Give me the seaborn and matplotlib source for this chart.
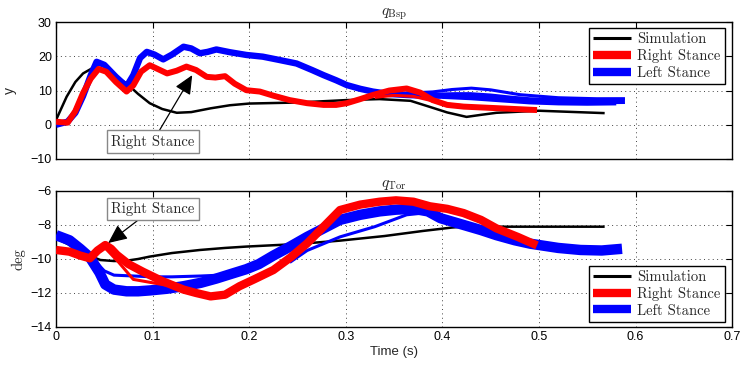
import numpy as np
import pandas as pd
import matplotlib
matplotlib.use("Agg")
import matplotlib.pyplot as plt
import seaborn as sns
from matplotlib.lines import Line2D

# ---------------- data ----------------
# Top panel  q_Bsp  (y)
t_sim_top = [0, 0.011, 0.02, 0.028, 0.038, 0.05, 0.062, 0.073, 0.085, 0.097, 0.11, 0.125,
             0.14, 0.16, 0.18, 0.2, 0.25, 0.3, 0.335, 0.367, 0.385, 0.405, 0.425, 0.44,
             0.456, 0.5, 0.568]
v_sim_top = [1.4, 8.2, 12.5, 15.0, 16.6, 16.0, 14.0, 12.1, 9.0, 6.3, 4.6, 3.5,
             3.7, 4.8, 5.7, 6.2, 6.5, 7.2, 7.5, 7.0, 5.4, 3.6, 2.3, 2.9,
             3.5, 4.1, 3.4]

t_right_top = [0, 0.012, 0.02, 0.028, 0.036, 0.044, 0.052, 0.062, 0.073, 0.08, 0.088, 0.097,
               0.106, 0.115, 0.125, 0.135, 0.145, 0.156, 0.165, 0.175, 0.185, 0.197, 0.211,
               0.225, 0.242, 0.26, 0.277, 0.29, 0.301, 0.315, 0.328, 0.345, 0.363, 0.377,
               0.39, 0.405, 0.422, 0.46, 0.498]
v_right_top = [0.9, 0.6, 4.0, 9.3, 13.5, 16.3, 15.5, 12.5, 9.7, 11.5, 15.5, 17.4,
               16.2, 15.0, 15.8, 17.0, 16.0, 14.0, 13.8, 14.2, 12.0, 10.1, 9.7,
               8.5, 7.2, 6.3, 5.8, 5.8, 6.3, 7.5, 8.7, 10.0, 10.6, 9.4,
               7.2, 5.8, 5.3, 4.8, 4.3]
t_right_top_b = [0.33, 0.35, 0.37, 0.385, 0.40, 0.42, 0.45, 0.48, 0.498]
v_right_top_b = [8.0, 8.6, 8.3, 7.3, 6.2, 5.6, 4.9, 4.5, 4.4]

t_left_top = [0, 0.012, 0.02, 0.028, 0.036, 0.042, 0.05, 0.062, 0.073, 0.08, 0.087, 0.094,
              0.102, 0.111, 0.12, 0.132, 0.14, 0.149, 0.157, 0.166, 0.18, 0.197, 0.214,
              0.23, 0.249, 0.265, 0.277, 0.29, 0.301, 0.315, 0.328, 0.345, 0.363, 0.38,
              0.398, 0.413, 0.429, 0.45, 0.47, 0.491, 0.52, 0.55, 0.589]
v_left_top = [0.0, 0.9, 3.5, 8.4, 14.5, 18.4, 17.5, 14.0, 11.2, 14.5, 19.5, 21.3,
              20.5, 19.1, 20.5, 22.8, 22.3, 20.9, 21.3, 22.0, 21.2, 20.4, 19.9,
              19.0, 17.9, 16.0, 14.5, 13.0, 11.6, 10.5, 9.7, 9.0, 8.7, 8.5,
              8.5, 8.6, 8.6, 8.2, 7.6, 7.1, 6.9, 6.9, 7.0]
t_left_top_b = [0.36, 0.39, 0.41, 0.43, 0.45, 0.48, 0.52, 0.56, 0.589]
v_left_top_b = [9.2, 9.6, 10.3, 10.7, 10.2, 8.8, 7.9, 7.6, 7.6]
t_left_top_c = [0.40, 0.43, 0.46, 0.49, 0.52, 0.55, 0.58]
v_left_top_c = [8.0, 7.6, 7.0, 6.4, 6.1, 6.0, 6.1]

# Bottom panel  q_Tor  (deg)
t_sim_bot = [0, 0.015, 0.028, 0.046, 0.06, 0.073, 0.085, 0.097, 0.12, 0.149, 0.175, 0.197,
             0.25, 0.294, 0.34, 0.38, 0.41, 0.422, 0.568]
v_sim_bot = [-8.78, -9.2, -9.67, -10.06, -10.12, -10.1, -10.0, -9.86, -9.65, -9.47, -9.35, -9.27,
             -9.12, -8.92, -8.65, -8.35, -8.15, -8.1, -8.1]

t_right_bot = [0, 0.014, 0.025, 0.035, 0.043, 0.051, 0.057, 0.063, 0.075, 0.09, 0.11, 0.132,
               0.145, 0.16, 0.175, 0.19, 0.205, 0.225, 0.243, 0.26, 0.277, 0.294, 0.315,
               0.335, 0.352, 0.37, 0.387, 0.405, 0.422, 0.44, 0.456, 0.478, 0.498]
v_right_bot = [-9.47, -9.57, -9.8, -9.96, -9.5, -9.18, -9.4, -9.76, -10.3, -10.75, -11.3, -11.8,
               -12.0, -12.2, -12.1, -11.6, -11.2, -10.65, -9.9, -9.08, -8.1, -7.12, -6.8,
               -6.63, -6.55, -6.63, -6.9, -7.05, -7.3, -7.7, -8.2, -8.7, -9.2]
t_right_bot_b = [0.05, 0.065, 0.08, 0.1, 0.12, 0.14]
v_right_bot_b = [-9.3, -10.2, -11.2, -11.4, -11.6, -11.9]

t_left_bot = [0, 0.014, 0.025, 0.035, 0.045, 0.051, 0.06, 0.073, 0.085, 0.097, 0.115, 0.132,
              0.15, 0.166, 0.18, 0.197, 0.21, 0.225, 0.243, 0.26, 0.277, 0.294, 0.315, 0.335,
              0.352, 0.37, 0.385, 0.398, 0.41, 0.422, 0.44, 0.456, 0.475, 0.491, 0.52, 0.543,
              0.565, 0.586]
v_left_bot = [-8.6, -8.9, -9.4, -9.9, -10.8, -11.5, -11.8, -11.9, -11.9, -11.85, -11.75, -11.6,
              -11.4, -11.15, -10.9, -10.6, -10.3, -9.8, -9.25, -8.7, -8.2, -7.7, -7.4, -7.2,
              -7.1, -7.05, -7.2, -7.6, -7.8, -8.0, -8.3, -8.6, -8.9, -9.1, -9.35, -9.47,
              -9.5, -9.4]
t_left_bot_b = [0.03, 0.04, 0.05, 0.06, 0.08, 0.1, 0.12, 0.15, 0.17, 0.2]
v_left_bot_b = [-9.7, -10.1, -10.7, -10.95, -11.0, -11.05, -11.05, -11.0, -10.95, -10.5]
t_left_bot_c = [0.242, 0.26, 0.294, 0.33, 0.363, 0.38]
v_left_bot_c = [-10.2, -9.5, -8.7, -8.1, -7.4, -7.3]

legend_labels = ["Simulation", "Right Stance", "Left Stance"]

# ---------------- styling ----------------
sns.set_style("white")
plt.rcParams["font.family"] = ["Liberation Sans", "DejaVu Sans"]
plt.rcParams["mathtext.fontset"] = "cm"
plt.rcParams["lines.solid_capstyle"] = "butt"
plt.rcParams["lines.solid_joinstyle"] = "round"
SERIF = ["cmr10", "DejaVu Serif"]

BLACK, RED, BLUE = "#000000", "#ff0000", "#0000ff"

fig = plt.figure(figsize=(7.43, 3.67), dpi=100)
ax1 = fig.add_axes([0.0754, 0.5668, 0.910, 0.373])
ax2 = fig.add_axes([0.0754, 0.109, 0.910, 0.3706])


def draw(ax, sim, right, left, lw_r, lw_l):
    sns.lineplot(x=sim[0], y=sim[1], color=BLACK, lw=1.8, ax=ax, zorder=2,
                 sort=False, estimator=None)
    for i, (t, v) in enumerate(left):
        sns.lineplot(x=t, y=v, color=BLUE, lw=lw_l if i == 0 else 2.2, ax=ax,
                     zorder=3, sort=False, estimator=None)
    for i, (t, v) in enumerate(right):
        sns.lineplot(x=t, y=v, color=RED, lw=lw_r if i == 0 else 2.2, ax=ax,
                     zorder=4, sort=False, estimator=None)


draw(ax1, (t_sim_top, v_sim_top),
     [(t_right_top, v_right_top), (t_right_top_b, v_right_top_b)],
     [(t_left_top, v_left_top), (t_left_top_b, v_left_top_b), (t_left_top_c, v_left_top_c)],
     4.3, 4.6)
draw(ax2, (t_sim_bot, v_sim_bot),
     [(t_right_bot, v_right_bot), (t_right_bot_b, v_right_bot_b)],
     [(t_left_bot, v_left_bot), (t_left_bot_b, v_left_bot_b), (t_left_bot_c, v_left_bot_c)],
     6.0, 7.5)

for ax in (ax1, ax2):
    ax.set_xlim(0, 0.7)
    ax.set_xticks(np.arange(0, 0.71, 0.1))
    ax.grid(True, linestyle=(0, (1, 3.5)), color="#444444", lw=0.7)
    ax.tick_params(direction="in", top=True, right=True, length=4, width=0.8,
                   labelsize=9, colors="black", pad=3)
    for s in ax.spines.values():
        s.set_color("black")
        s.set_linewidth(1.0)
    ax.set_xlabel("")

ax1.set_ylim(-10, 30)
ax1.set_yticks([-10, 0, 10, 20, 30])
ax1.set_xticklabels([])
ax1.set_yticklabels(["\u221210", "0", "10", "20", "30"])
ax1.set_ylabel("y", fontsize=10, labelpad=10)
ax1.set_title(r"$q_{\mathrm{Bsp}}$", fontsize=11, pad=3)

ax2.set_ylim(-14, -6)
ax2.set_yticks([-14, -12, -10, -8, -6])
ax2.set_yticklabels(["\u221214", "\u221212", "\u221210", "\u22128", "\u22126"])
ax2.set_xticklabels(["0", "0.1", "0.2", "0.3", "0.4", "0.5", "0.6", "0.7"])
ax2.set_xlabel("Time (s)", fontsize=9.5, labelpad=2)
ax2.set_ylabel("deg", fontsize=10.5, family=SERIF, labelpad=4)
ax2.set_title(r"$q_{\mathrm{Tor}}$", fontsize=11, pad=3)

handles = [Line2D([], [], color=BLACK, lw=2.2),
           Line2D([], [], color=RED, lw=6),
           Line2D([], [], color=BLUE, lw=6)]
for ax, anchor, loc in ((ax1, (0.9896, 0.956), "upper right"),
                        (ax2, (0.9896, 0.037), "lower right")):
    leg = ax.legend(handles, legend_labels, loc=loc, bbox_to_anchor=anchor, borderaxespad=0,
                    prop={"family": SERIF, "size": 10.5}, fancybox=False, framealpha=1,
                    edgecolor="black", handlelength=2.6, handletextpad=0.45,
                    labelspacing=0.2, borderpad=0.3)
    leg.get_frame().set_linewidth(1.0)
    leg.set_zorder(10)

box = dict(boxstyle="square,pad=0.3", fc="white", ec="#888888", lw=1)
arrow = dict(arrowstyle="-|>,head_length=1.1,head_width=0.5", color="black", lw=0.9,
             shrinkA=0, shrinkB=0)
ax1.annotate("Right Stance", xy=(0.141, 14.5), xytext=(0.100, -5.0),
             ha="center", va="center", fontsize=10.5, family=SERIF, bbox=box,
             arrowprops=arrow, zorder=11)
ax2.annotate("Right Stance", xy=(0.054, -9.06), xytext=(0.100, -7.06),
             ha="center", va="center", fontsize=10.5, family=SERIF, bbox=box,
             arrowprops=arrow, zorder=11)

fig.savefig("out.png", dpi=100)
